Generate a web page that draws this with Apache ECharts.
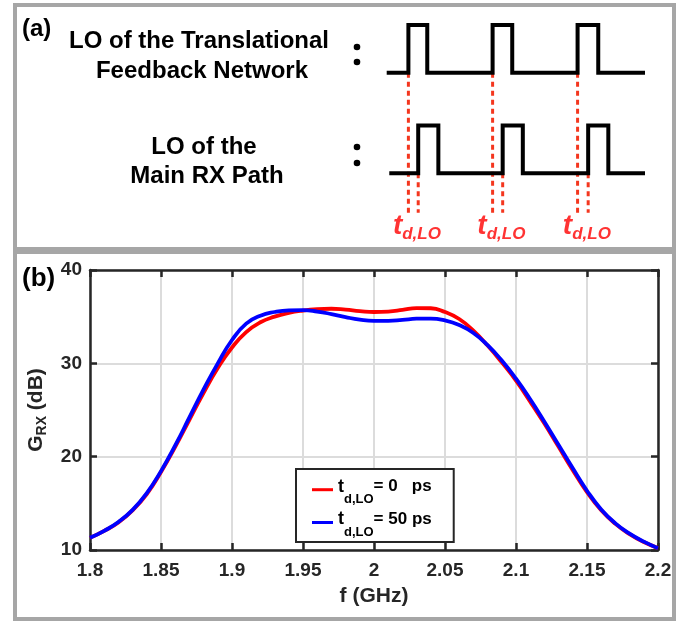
<!DOCTYPE html>
<html><head><meta charset="utf-8">
<script src="https://cdn.jsdelivr.net/npm/echarts@6/dist/echarts.min.js"></script>
<style>html,body{margin:0;padding:0;background:#fff}#c{width:699px;height:623px}</style>
</head><body><div id="c"></div>
<script>
// ---------- panel (b) data ----------
const freq = [1.80,1.81,1.82,1.83,1.84,1.85,1.86,1.87,1.88,1.89,1.90,1.91,1.92,1.93,1.94,1.95,1.96,1.97,1.98,1.99,2.00,
              2.01,2.02,2.03,2.04,2.05,2.06,2.07,2.08,2.09,2.10,2.11,2.12,2.13,2.14,2.15,2.16,2.17,2.18,2.19,2.20];
const gainTd0 = [11.3,12.05,12.95,14.25,16.0,18.35,21.05,23.95,26.85,29.5,31.7,33.35,34.4,35.0,35.4,35.65,35.8,35.85,35.75,35.6,35.5,
                 35.55,35.72,35.92,35.9,35.5,34.75,33.5,31.9,30.1,28.15,25.9,23.55,21.05,18.55,16.2,14.25,12.8,11.7,10.85,10.2];
const gainTd50 = [11.3,12.05,13.0,14.3,16.1,18.45,21.2,24.2,27.2,30.0,32.5,34.25,35.1,35.5,35.68,35.7,35.55,35.28,34.95,34.68,34.55,
                  34.55,34.65,34.78,34.8,34.6,34.1,33.25,31.95,30.3,28.35,26.15,23.75,21.25,18.75,16.35,14.35,12.85,11.75,10.9,10.2];
const xTicks = [1.8,1.85,1.9,1.95,2,2.05,2.1,2.15,2.2];
const yTicks = [10,20,30,40];
const seriesNames = ['td0','td50'];
const legendValues = ['= 0   ps','= 50 ps'];

// ---------- panel (a) timing diagram data (time units) ----------
const fbRise = [8.4, 41.0, 73.9];
const fbFall = [15.7, 48.6, 81.9];
const rxRise = [12.2, 44.9, 78.0];
const rxFall = [20.0, 52.7, 85.8];
const fbStart = 0, rxStart = 1.0, waveEnd = 100;
const fbLow = 2.1, fbHigh = 3.1, rxLow = 0, rxHigh = 1;
const guideBottom = -0.83;
const labelLevel = -1.146;

const SANS = '"Liberation Sans",Arial,sans-serif';
const AX = '#262626';

function wave(start, rises, falls, low, high, end) {
  const pts = [[start, low]];
  rises.forEach((r, i) => { pts.push([r, low], [r, high], [falls[i], high], [falls[i], low]); });
  pts.push([end, low]);
  return pts;
}

const chart = echarts.init(document.getElementById('c'), null, {renderer: 'canvas'});

const guideSeries = [];
fbRise.forEach(x => guideSeries.push({type:'line', xAxisIndex:2, yAxisIndex:2, z:1, symbol:'none', silent:true,
  data:[[x, fbLow],[x, guideBottom]], lineStyle:{color:'#f4361e', width:3, type:[5,4]}}));
rxRise.forEach(x => guideSeries.push({type:'line', xAxisIndex:2, yAxisIndex:2, z:1, symbol:'none', silent:true,
  data:[[x, rxLow],[x, guideBottom]], lineStyle:{color:'#f4361e', width:3, type:[5,4]}}));

const option = {
  animation: false,
  grid: [
    {left: 90, top: 270, width: 568, height: 280},
    {left: 386.7, top: 25, width: 258.3, height: 219.9}
  ],
  xAxis: [
    {type:'value', gridIndex:0, position:'bottom', min: xTicks[0], max: xTicks[xTicks.length-1], interval: 0.05,
     axisLine:{show:true, lineStyle:{color:AX, width:2.5}},
     axisTick:{show:true, inside:true, length:7, lineStyle:{color:AX, width:2.5}},
     splitLine:{show:true, lineStyle:{color:'#dcdcdc', width:2}},
     axisLabel:{color:AX, fontFamily:SANS, fontWeight:'bold', fontSize:19, margin:11,
       formatter: v => String(+(+v).toFixed(2))},
     name:'f (GHz)', nameLocation:'middle', nameGap:36,
     nameTextStyle:{color:AX, fontFamily:SANS, fontWeight:'bold', fontSize:21}},
    {type:'value', gridIndex:0, position:'top', min: xTicks[0], max: xTicks[xTicks.length-1], interval: 0.05,
     axisLine:{show:true, lineStyle:{color:AX, width:2.5}},
     axisTick:{show:true, inside:true, length:7, lineStyle:{color:AX, width:2.5}},
     splitLine:{show:false}, axisLabel:{show:false}},
    {type:'value', gridIndex:1, min:0, max:100, show:false}
  ],
  yAxis: [
    {type:'value', gridIndex:0, position:'left', min: yTicks[0], max: yTicks[yTicks.length-1], interval: 10,
     axisLine:{show:true, lineStyle:{color:AX, width:2.5}},
     axisTick:{show:true, inside:true, length:7, lineStyle:{color:AX, width:2.5}},
     splitLine:{show:true, lineStyle:{color:'#dcdcdc', width:2}},
     axisLabel:{color:AX, fontFamily:SANS, fontWeight:'bold', fontSize:19, margin:8},
     name:'{g|G}{s|RX}{n| (dB)}', nameLocation:'middle', nameGap:41, nameRotate:90,
     nameTextStyle:{color:AX, rich:{
       g:{fontFamily:SANS, fontWeight:'bold', fontSize:21, color:AX},
       s:{fontFamily:SANS, fontWeight:'bold', fontSize:14, color:AX, padding:[12,0,0,0]},
       n:{fontFamily:SANS, fontWeight:'bold', fontSize:21, color:AX}
     }}},
    {type:'value', gridIndex:0, position:'right', min: yTicks[0], max: yTicks[yTicks.length-1], interval: 10,
     axisLine:{show:true, lineStyle:{color:AX, width:2.5}},
     axisTick:{show:true, inside:true, length:7, lineStyle:{color:AX, width:2.5}},
     splitLine:{show:false}, axisLabel:{show:false}},
    {type:'value', gridIndex:1, min:-1.5, max:3.1, show:false}
  ],
  legend: {
    data: seriesNames, orient:'vertical', left:296, top:469, icon:'rect', itemWidth:21, itemHeight:3, itemGap:4.3,
    padding:[8.7,22,3,16], borderColor:AX, borderWidth:2, backgroundColor:'#fff',
    formatter: name => '{t|t}{s|d,LO}{v|' + legendValues[seriesNames.indexOf(name)] + '}',
    textStyle:{rich:{
      t:{fontFamily:SANS, fontWeight:'bold', fontSize:18, color:'#000', padding:[0,0,6,0]},
      s:{fontFamily:SANS, fontWeight:'bold', fontSize:13, color:'#000', padding:[20,0,0,0]},
      v:{fontFamily:SANS, fontWeight:'bold', fontSize:17, color:'#000', padding:[0,0,6,0]}
    }}
  },
  graphic: [
    {type:'rect', shape:{x:15, y:5, width:659, height:244}, style:{fill:'transparent', stroke:'#a6a6a6', lineWidth:4}},
    {type:'rect', shape:{x:15, y:252, width:659, height:367}, style:{fill:'transparent', stroke:'#a6a6a6', lineWidth:4}},
    {type:'text', x:22, y:29, style:{text:'(a)', fontFamily:SANS, fontWeight:'bold', fontSize:24, fill:'#000', verticalAlign:'middle'}},
    {type:'text', x:22, y:279, style:{text:'(b)', fontFamily:SANS, fontWeight:'bold', fontSize:26, fill:'#000', verticalAlign:'middle'}},
    {type:'text', x:199, y:41, style:{text:'LO of the Translational', fontFamily:SANS, fontWeight:'bold', fontSize:24, fill:'#000', align:'center', verticalAlign:'middle'}},
    {type:'text', x:202, y:71, style:{text:'Feedback Network', fontFamily:SANS, fontWeight:'bold', fontSize:24, fill:'#000', align:'center', verticalAlign:'middle'}},
    {type:'text', x:204, y:147, style:{text:'LO of the', fontFamily:SANS, fontWeight:'bold', fontSize:24, fill:'#000', align:'center', verticalAlign:'middle'}},
    {type:'text', x:207, y:176, style:{text:'Main RX Path', fontFamily:SANS, fontWeight:'bold', fontSize:24, fill:'#000', align:'center', verticalAlign:'middle'}},
    {type:'circle', shape:{cx:357, cy:47, r:3.3}, style:{fill:'#000'}},
    {type:'circle', shape:{cx:357, cy:62, r:3.3}, style:{fill:'#000'}},
    {type:'circle', shape:{cx:357, cy:147, r:3.3}, style:{fill:'#000'}},
    {type:'circle', shape:{cx:357, cy:163, r:3.3}, style:{fill:'#000'}}
  ],
  series: [
    {name:seriesNames[0], type:'line', xAxisIndex:0, yAxisIndex:0, smooth:0.5, showSymbol:false, symbol:'none', z:3,
     color:'#ff0000', lineStyle:{color:'#ff0000', width:3.8},
     data: freq.map((f,i) => [f, gainTd0[i]])},
    {name:seriesNames[1], type:'line', xAxisIndex:0, yAxisIndex:0, smooth:0.5, showSymbol:false, symbol:'none', z:4,
     color:'#0000ff', lineStyle:{color:'#0000ff', width:3.8},
     data: freq.map((f,i) => [f, gainTd50[i]])},
    ...guideSeries,
    {type:'line', xAxisIndex:2, yAxisIndex:2, z:2, symbol:'none', silent:true,
     data: wave(fbStart, fbRise, fbFall, fbLow, fbHigh, waveEnd), lineStyle:{color:'#000', width:4, join:'miter', cap:'butt'}},
    {type:'line', xAxisIndex:2, yAxisIndex:2, z:2, symbol:'none', silent:true,
     data: wave(rxStart, rxRise, rxFall, rxLow, rxHigh, waveEnd), lineStyle:{color:'#000', width:4, join:'miter', cap:'butt'}},
    {type:'scatter', xAxisIndex:2, yAxisIndex:2, symbolSize:0, silent:true, clip:false,
     data: rxRise.map(x => [x - 0.5, labelLevel]),
     label:{show:true, position:'inside', formatter:'{t|t}{s|d,LO}', rich:{
       t:{fontFamily:SANS, fontStyle:'italic', fontWeight:'bold', fontSize:28, color:'#ff0000', padding:[0,0,4,0]},
       s:{fontFamily:SANS, fontStyle:'italic', fontWeight:'bold', fontSize:17, color:'#ff0000', padding:[13,0,0,0]}
     }}}
  ]
};
chart.setOption(option);
</script></body></html>
